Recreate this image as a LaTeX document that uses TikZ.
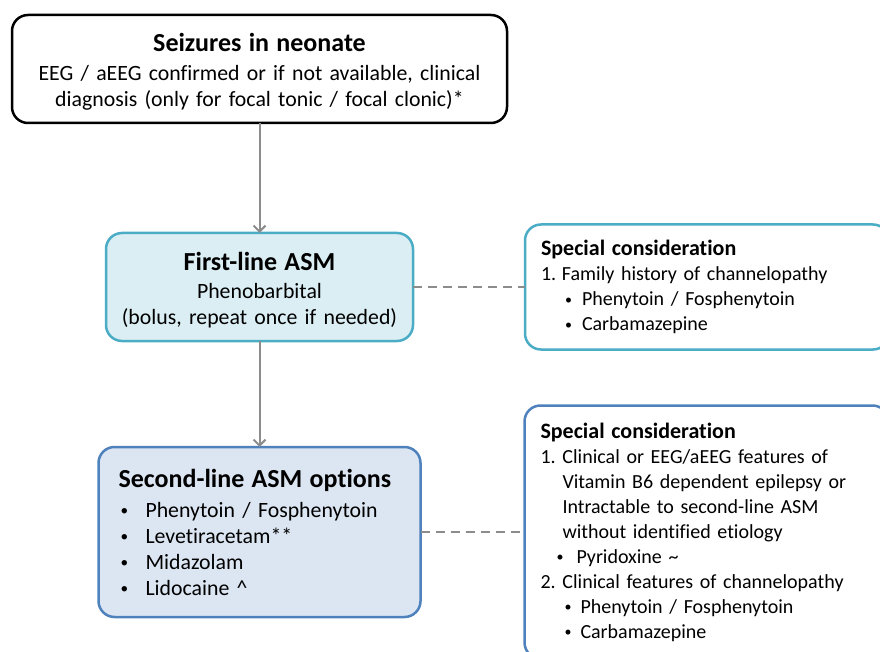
\documentclass[tikz,border=0pt]{standalone}
\usepackage{fontspec}
\setmainfont[Ligatures=NoCommon]{Carlito}
\usetikzlibrary{arrows.meta, positioning}

\definecolor{tealline}{HTML}{4BACC6}
\definecolor{tealfill}{HTML}{DAEEF3}
\definecolor{blueline}{HTML}{4F81BD}
\definecolor{bluefill}{HTML}{DCE6F2}
\definecolor{linkgray}{HTML}{8C8C8C}

\newcommand{\bul}{\raisebox{1.5pt}{\scalebox{0.7}{\textbullet}}}

\begin{document}
\begin{tikzpicture}[x=1pt, y=-1pt,
        node distance = 110pt and 112pt,
        flowbox/.style = {draw, line width=2.5pt, rounded corners=16pt, inner ysep=0pt, outer sep=0pt,
            font=\fontsize{21.8}{26}\selectfont},
        notebox/.style = {draw, line width=2.5pt, rounded corners=16pt, fill=white, align=left, outer sep=0pt,
            inner xsep=16pt, inner ysep=0pt, text width=332pt, font=\fontsize{20}{25}\selectfont},
        flow/.style = {draw=linkgray, line width=2pt, -{Straight Barb[length=6pt, width=12pt]}},
        link/.style = {draw=linkgray, line width=2pt, dash pattern=on 9pt off 6pt},
    ]
    \useasboundingbox (0,0) rectangle (880,652);
    \clip (0,0) rectangle (880,652);
    \node[flowbox, align=center, inner xsep=0pt, text width=495pt, minimum height=108pt]
        (seizure) at (259.5,69)
        {\rule{0pt}{24pt}{\fontsize{26}{26}\selectfont\bfseries Seizures in neonate}\\[3pt]
         EEG / aEEG confirmed or if not available, clinical\\
         diagnosis (only for focal tonic / focal clonic)*};
    \node[flowbox, draw=tealline, fill=tealfill, align=center, inner xsep=0pt,
        text width=307pt, minimum height=108pt, below=of seizure]
        (first) {\rule{0pt}{24pt}{\fontsize{26}{26}\selectfont\bfseries First-line ASM}\\[2pt]
         Phenobarbital\\
         (bolus, repeat once if needed)};
    \node[flowbox, draw=blueline, fill=bluefill, align=left, inner xsep=20pt,
        text width=282pt, minimum height=170pt, below=106pt of first]
        (second) {{\fontsize{26}{26}\selectfont\bfseries Second-line ASM options}\\[4pt]
         \hspace*{2pt}\makebox[25pt][l]{\bul}Phenytoin / Fosphenytoin\\
         \hspace*{2pt}\makebox[25pt][l]{\bul}Levetiracetam**\\
         \hspace*{2pt}\makebox[25pt][l]{\bul}Midazolam\\
         \hspace*{2pt}\makebox[25pt][l]{\bul}Lidocaine \textasciicircum};
    \node[notebox, draw=tealline, minimum height=125pt, right=of first]
        (special1) {{\fontsize{22}{25}\selectfont\bfseries Special consideration}\\
         \makebox[21pt][l]{1.}Family history of channelopathy\\
         \hspace*{24pt}\makebox[17pt][l]{\bul}Phenytoin / Fosphenytoin\\
         \hspace*{24pt}\makebox[17pt][l]{\bul}Carbamazepine};
    \node[notebox, draw=blueline, minimum height=253pt, right=104pt of second]
        (special2) {{\fontsize{22}{25}\selectfont\bfseries Special consideration}\\
         \makebox[22pt][l]{1.}Clinical or EEG/aEEG features of\\
         \hspace*{22pt}Vitamin B6 dependent epilepsy or\\
         \hspace*{22pt}Intractable to second-line ASM\\
         \hspace*{22pt}without identified etiology\\
         \hspace*{16pt}\makebox[20pt][l]{\bul}Pyridoxine \textasciitilde\\
         \makebox[22pt][l]{2.}Clinical features of channelopathy\\
         \hspace*{24pt}\makebox[16pt][l]{\bul}Phenytoin / Fosphenytoin\\
         \hspace*{24pt}\makebox[16pt][l]{\bul}Carbamazepine};
    %
    \draw[flow] (seizure) -- (first);
    \draw[flow] (first) -- (second);
    \draw[link] (first) -- (special1);
    \draw[link] (second) -- (special2);
    %
\end{tikzpicture}
\end{document}
